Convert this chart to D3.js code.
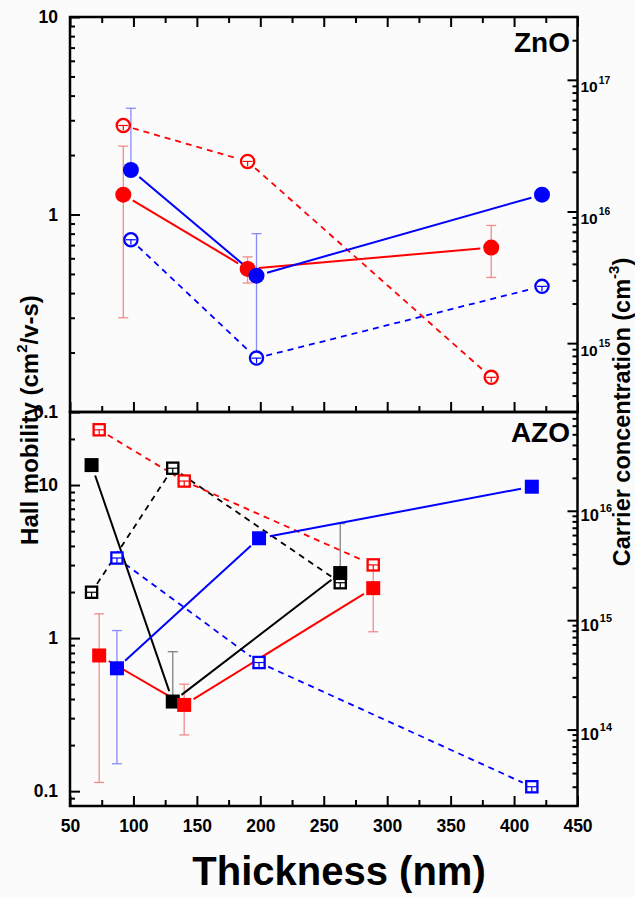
<!DOCTYPE html>
<html><head><meta charset="utf-8">
<script src="https://cdn.jsdelivr.net/npm/d3@7/dist/d3.min.js"></script>
<style>body{margin:0;background:#fbfbfb}svg{display:block}</style></head>
<body><svg id="c" width="635" height="897"></svg>
<script>
// ---------- data ----------
const xTickValues = [50, 100, 150, 200, 250, 300, 350, 400, 450];
const xMinorValues = [75, 125, 175, 225, 275, 325, 375, 425];
const leftMajorTicks = [0.1, 1, 10];
const leftTickLabels = ["0.1", "1", "10"];
const rightMajorTop = [1e15, 1e16, 1e17];
const rightExpTop = ["15", "16", "17"];
const rightMajorBottom = [1e14, 1e15, 1e16];
const rightExpBottom = ["14", "15", "16"];

// ZnO panel
const znoRedThick = [92, 190, 382];
const znoRedMobility = [1.26, 0.53, 0.68];
const znoRedMobLo = [0.30, 0.45, 0.48];
const znoRedMobHi = [2.22, 0.61, 0.88];
const znoRedCarrier = [4.5e16, 2.4e16, 5.5e14];

const znoBlueThick = [98, 197, 422];
const znoBlueMobility = [1.68, 0.49, 1.26];
const znoBlueMobLo = [null, 0.19, null];
const znoBlueMobHi = [3.45, 0.80, null];
const znoBlueCarrier = [6.1e15, 7.7e14, 2.7e15];

// AZO panel
const azoBlackThick = [67, 131, 263];
const azoBlackMobility = [13.5, 0.385, 2.66];
const azoBlackMobLo = [null, null, null];
const azoBlackMobHi = [null, 0.815, 5.6];
const azoBlackCarrier = [1.8e15, 2.45e16, 2.2e15];

const azoRedThick = [73, 140, 289];
const azoRedMobility = [0.77, 0.366, 2.12];
const azoRedMobLo = [0.114, 0.233, 1.10];
const azoRedMobHi = [1.44, 0.50, 3.0];
const azoRedCarrier = [5.5e16, 1.87e16, 3.2e15];

const azoBlueThick = [87, 199, 414];
const azoBlueMobility = [0.635, 4.49, 9.75];
const azoBlueMobLo = [0.151, null, null];
const azoBlueMobHi = [1.12, null, null];
const azoBlueCarrier = [3.7e15, 4.1e14, 3.0e13];

// ---------- layout ----------
const FONT = "'Liberation Sans', Arial, Helvetica, sans-serif";
const X0 = 70, X1 = 577.5;
const svg = d3.select("#c");
const x = d3.scaleLinear().domain([50, 450]).range([X0, X1]);

const panels = [
  { name: "ZnO", top: 17, bottom: 412, leftDom: [0.1, 10], rightDom: [3e14, 3e17],
    rightMajor: rightMajorTop, rightExp: rightExpTop, rFont: 15.5, rDy: 12, marker: "circle",
    series: [
      { color: "#ff0000", err: "#f58a8a", t: znoRedThick, mob: znoRedMobility, lo: znoRedMobLo, hi: znoRedMobHi, car: znoRedCarrier },
      { color: "#0000ff", err: "#8a8aff", t: znoBlueThick, mob: znoBlueMobility, lo: znoBlueMobLo, hi: znoBlueMobHi, car: znoBlueCarrier }
    ] },
  { name: "AZO", top: 412, bottom: 806, leftDom: [0.08, 30], rightDom: [2e13, 8e16],
    rightMajor: rightMajorBottom, rightExp: rightExpBottom, rFont: 16.5, rDy: 10, marker: "square",
    series: [
      { color: "#000000", err: "#808080", t: azoBlackThick, mob: azoBlackMobility, lo: azoBlackMobLo, hi: azoBlackMobHi, car: azoBlackCarrier },
      { color: "#ff0000", err: "#f58a8a", t: azoRedThick, mob: azoRedMobility, lo: azoRedMobLo, hi: azoRedMobHi, car: azoRedCarrier },
      { color: "#0000ff", err: "#8a8aff", t: azoBlueThick, mob: azoBlueMobility, lo: azoBlueMobLo, hi: azoBlueMobHi, car: azoBlueCarrier }
    ] }
];

function minors(dom) {
  const out = [];
  const lo = Math.floor(Math.log10(dom[0])), hi = Math.ceil(Math.log10(dom[1]));
  for (let e = lo; e <= hi; e++) for (let k = 2; k <= 9; k++) {
    const v = k * Math.pow(10, e);
    if (v > dom[0] * 1.0001 && v < dom[1] * 0.9999) out.push(v);
  }
  return out;
}

function gapLine(pts, gap) {
  const segs = [];
  for (let i = 0; i < pts.length - 1; i++) {
    const a = pts[i], b = pts[i + 1];
    const dx = b[0] - a[0], dy = b[1] - a[1], L = Math.hypot(dx, dy);
    if (L <= 2 * gap) continue;
    const ux = dx / L, uy = dy / L;
    segs.push([[a[0] + ux * gap, a[1] + uy * gap], [b[0] - ux * gap, b[1] - uy * gap]]);
  }
  return segs;
}

panels.forEach((p, pi) => {
  const yL = d3.scaleLog().domain(p.leftDom).range([p.bottom, p.top]);
  const yR = d3.scaleLog().domain(p.rightDom).range([p.bottom, p.top]);
  const g = svg.append("g");

  // left axis
  g.append("g").attr("class", "lab").attr("transform", `translate(${X0},0)`)
    .call(d3.axisLeft(yL).tickValues(leftMajorTicks).tickSize(-10).tickPadding(12).tickFormat((d, i) => leftTickLabels[i]));
  g.append("g").attr("transform", `translate(${X0},0)`)
    .call(d3.axisLeft(yL).tickValues(minors(p.leftDom)).tickSize(-5).tickFormat(""));

  // right axis
  const rax = g.append("g").attr("transform", `translate(${X1},0)`)
    .call(d3.axisRight(yR).tickValues(p.rightMajor).tickSize(-10).tickFormat(""));
  g.append("g").attr("transform", `translate(${X1},0)`)
    .call(d3.axisRight(yR).tickValues(minors(p.rightDom)).tickSize(-5).tickFormat(""));

  // x ticks
  g.append("g").attr("class", "lab").attr("transform", `translate(0,${p.bottom})`)
    .call(d3.axisBottom(x).tickValues(xTickValues).tickSize(-10).tickPadding(14).tickFormat(pi === 1 ? d3.format("d") : ""));
  g.append("g").attr("transform", `translate(0,${p.bottom})`)
    .call(d3.axisBottom(x).tickValues(xMinorValues).tickSize(-6).tickFormat(""));
  if (pi === 0) {
    g.append("g").attr("transform", `translate(0,${p.top})`).call(d3.axisTop(x).tickValues(xTickValues).tickSize(-10).tickFormat(""));
    g.append("g").attr("transform", `translate(0,${p.top})`).call(d3.axisTop(x).tickValues(xMinorValues).tickSize(-6).tickFormat(""));
  }

  g.selectAll(".domain").remove();
  g.selectAll(".tick line").attr("stroke", "#000").attr("stroke-width", 2);
  g.selectAll(".lab .tick text").attr("font-family", FONT).attr("font-size", "17.5px")
    .attr("font-weight", "bold").attr("fill", "#000");

  // right tick labels with superscripts
  rax.selectAll(".tick").each(function (d, i) {
    const t = d3.select(this).append("text").attr("x", 3).attr("y", p.rDy)
      .attr("fill", "#000").attr("text-anchor", "start")
      .attr("font-family", FONT).attr("font-weight", "bold").attr("font-size", p.rFont);
    t.append("tspan").attr("font-size", p.rFont).text("10");
    t.append("tspan").attr("dy", -p.rFont * 0.55).attr("dx", 1).attr("font-size", p.rFont * 0.66).text(p.rightExp[i]);
  });

  // data layers
  const data = g.append("g");
  const errG = data.append("g"), dashG = data.append("g"), solidG = data.append("g"), markG = data.append("g");

  p.series.forEach(s => {
    s.t.forEach((t, i) => {
      const cx = x(t), cy = yL(s.mob[i]);
      [s.hi[i], s.lo[i]].filter(v => v != null).map(v => yL(v)).forEach(ye => {
        errG.append("line").attr("x1", cx).attr("x2", cx).attr("y1", cy).attr("y2", ye)
          .attr("stroke", s.err).attr("stroke-width", 1.3);
        errG.append("line").attr("x1", cx - 5).attr("x2", cx + 5).attr("y1", ye).attr("y2", ye)
          .attr("stroke", s.err).attr("stroke-width", 1.3);
      });
    });
    const mobPts = s.t.map((t, i) => [x(t), yL(s.mob[i])]);
    const carPts = s.t.map((t, i) => [x(t), yR(s.car[i])]);
    gapLine(mobPts, 11).forEach(seg => solidG.append("line")
      .attr("x1", seg[0][0]).attr("y1", seg[0][1]).attr("x2", seg[1][0]).attr("y2", seg[1][1])
      .attr("stroke", s.color).attr("stroke-width", 2));
    gapLine(carPts, 10).forEach(seg => dashG.append("line")
      .attr("x1", seg[0][0]).attr("y1", seg[0][1]).attr("x2", seg[1][0]).attr("y2", seg[1][1])
      .attr("stroke", s.color).attr("stroke-width", 1.8).attr("stroke-dasharray", "6,5"));
    const mg = markG.append("g");
    carPts.forEach(([cx, cy]) => {
      if (p.marker === "circle") {
        mg.append("circle").attr("cx", cx).attr("cy", cy).attr("r", 6.6)
          .attr("fill", "#fff").attr("stroke", s.color).attr("stroke-width", 2.3);
      } else {
        mg.append("rect").attr("x", cx - 5.6).attr("y", cy - 5.6).attr("width", 11.2).attr("height", 11.2)
          .attr("fill", "#fff").attr("stroke", s.color).attr("stroke-width", 2.3);
      }
      mg.append("line").attr("x1", cx - 5).attr("x2", cx + 5).attr("y1", cy).attr("y2", cy)
        .attr("stroke", s.color).attr("stroke-width", 1.2);
      mg.append("line").attr("x1", cx).attr("x2", cx).attr("y1", cy).attr("y2", cy + 5)
        .attr("stroke", s.color).attr("stroke-width", 1.2);
    });
    mobPts.forEach(([cx, cy]) => {
      if (p.marker === "circle") {
        mg.append("circle").attr("cx", cx).attr("cy", cy).attr("r", 8).attr("fill", s.color);
      } else {
        mg.append("rect").attr("x", cx - 7).attr("y", cy - 7).attr("width", 14).attr("height", 14).attr("fill", s.color);
      }
    });
  });

  svg.append("rect").attr("x", X0).attr("y", p.top).attr("width", X1 - X0).attr("height", p.bottom - p.top)
    .attr("fill", "none").attr("stroke", "#000").attr("stroke-width", 2.5);

  svg.append("text").attr("x", 570).attr("y", p.top + (pi === 0 ? 35 : 30)).attr("text-anchor", "end")
    .attr("font-family", FONT).attr("font-size", 28).attr("font-weight", "bold").text(p.name);
});

// axis titles
const lt = svg.append("text").attr("transform", "translate(38,420) rotate(-90)").attr("text-anchor", "middle")
  .attr("font-family", FONT).attr("font-size", 24).attr("font-weight", "bold");
lt.append("tspan").text("Hall mobility (cm");
lt.append("tspan").attr("dy", -11).attr("font-size", 15).text("2");
lt.append("tspan").attr("dy", 11).text("/v-s)");

const rt = svg.append("text").attr("transform", "translate(630,412) rotate(-90)").attr("text-anchor", "middle")
  .attr("font-family", FONT).attr("font-size", 23.5).attr("font-weight", "bold");
rt.append("tspan").text("Carrier concentration (cm");
rt.append("tspan").attr("dy", -11).attr("font-size", 15).text("-3");
rt.append("tspan").attr("dy", 11).text(")");

svg.append("text").attr("x", 339).attr("y", 885).attr("text-anchor", "middle")
  .attr("font-family", FONT).attr("font-size", 40).attr("font-weight", "bold").text("Thickness (nm)");
</script></body></html>
